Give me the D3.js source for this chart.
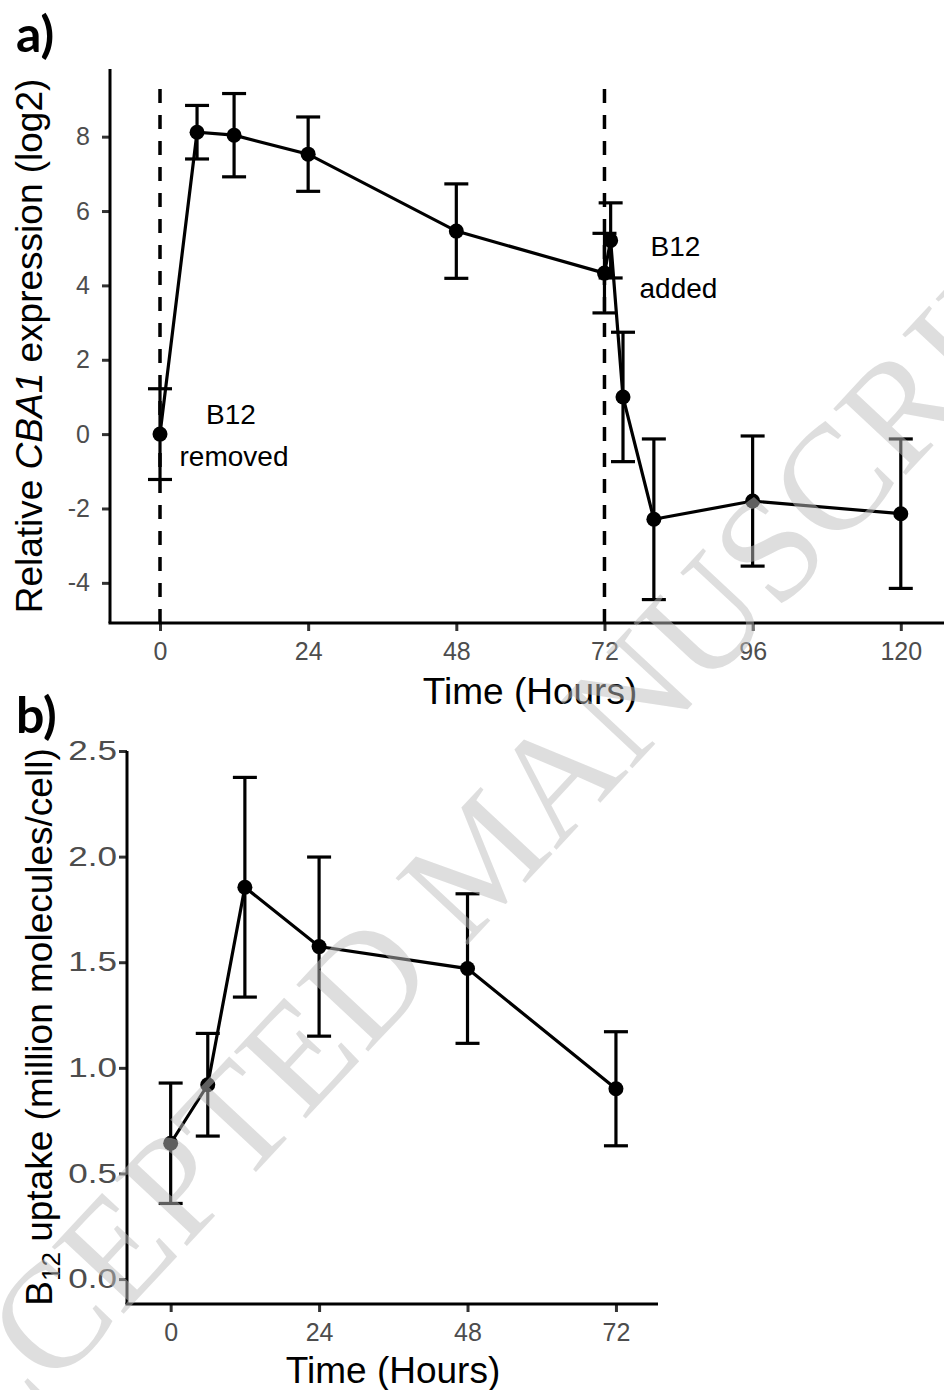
<!DOCTYPE html>
<html lang="en">
<head>
  <meta charset="UTF-8">
  <title>CBA1 expression and B12 uptake</title>
  <script src="https://d3js.org/d3.v7.min.js"></script>
  <style>
    body { margin: 0; background: #fff; }
    svg text { font-family: "Liberation Sans", Arimo, Arial, Helvetica, sans-serif; }
    .tick text { fill: #4d4d4d; }
    .tick line { stroke: #333; stroke-width: 3px; }
    .domain { display: none; }
    .axis-line { stroke: #000; stroke-width: 3px; }
    .series { fill: none; stroke: #000; stroke-width: 3.2px; }
    .err { stroke: #000; stroke-width: 3.2px; fill: none; }
    .vline { stroke: #000; stroke-width: 3.5px; stroke-dasharray: 14,12; }
    .title { font-size: 37px; fill: #000; }
    .note { font-size: 28px; fill: #000; }
    svg text.panel { font-family: Lato, "Open Sans", sans-serif; font-weight: 700; font-size: 50px; }
    svg text.mark { font-family: "Liberation Serif", "Times New Roman", serif; }
  </style>
</head>
<body>
  <svg width="944" height="1390"></svg>
  <script>
    // panel a: relative CBA1 expression (log2)
    const timeA = [0, 6, 12, 24, 48, 72, 73, 75, 80, 96, 120];
    const meanA = [0, 8.12, 8.04, 7.53, 5.46, 4.33, 5.21, 1.0, -2.29, -1.8, -2.14];
    const errA  = [1.22, 0.72, 1.12, 1.0, 1.27, 1.07, 1.01, 1.74, 2.16, 1.75, 2.01];
    const xTicksA = [0, 24, 48, 72, 96, 120];
    const yTicksA = [-4, -2, 0, 2, 4, 6, 8];
    const vlinesA = [0, 72];
    const notesA = [
      { x: 11.5, y: 0.27, lines: ["B12", "removed"] },
      { x: 83.5, y: 4.79, lines: ["B12", "added"] }
    ];

    // panel b: B12 uptake (million molecules/cell)
    const timeB = [0, 6, 12, 24, 48, 72];
    const meanB = [0.643, 0.92, 1.855, 1.574, 1.47, 0.901];
    const errB  = [0.285, 0.243, 0.52, 0.424, 0.354, 0.27];
    const xTicksB = [0, 24, 48, 72];
    const yTicksB = [0, 0.5, 1.0, 1.5, 2.0, 2.5];

    const svg = d3.select("svg");

    function panel(opts) {
      const g = svg.append("g");
      const x = d3.scaleLinear().domain(opts.xDomain).range(opts.xRange);
      const y = d3.scaleLinear().domain(opts.yDomain).range(opts.yRange);
      const rows = opts.time.map((t, i) => ({ t: t, m: opts.mean[i], e: opts.err[i] }));

      // axes
      g.append("g")
        .attr("transform", `translate(0,${opts.yRange[0]})`)
        .call(d3.axisBottom(x).tickValues(opts.xTicks).tickSize(8).tickPadding(11))
        .attr("font-family", null)
        .selectAll("text").style("font-size", "25px");
      const ya = g.append("g")
        .attr("transform", `translate(${opts.xRange[0]},0)`)
        .call(d3.axisLeft(y).tickValues(opts.yTicks).tickSize(8).tickPadding(opts.yPad)
          .tickFormat(opts.yFormat))
        .attr("font-family", null);
      ya.selectAll("text")
        .style("font-size", opts.yFont)
        .attr("x", -(8 + opts.yPad) / opts.yStretch)
        .attr("transform", `scale(${opts.yStretch},1)`);

      g.append("line").attr("class", "axis-line")
        .attr("x1", opts.xRange[0] - 1.5).attr("x2", opts.xRange[1])
        .attr("y1", opts.yRange[0]).attr("y2", opts.yRange[0]);
      g.append("line").attr("class", "axis-line")
        .attr("x1", opts.xRange[0]).attr("x2", opts.xRange[0])
        .attr("y1", opts.yRange[0]).attr("y2", opts.yRange[1]);

      // dashed reference lines
      g.selectAll(".vline")
        .data(opts.vlines || [])
        .enter().append("line")
        .attr("class", "vline")
        .attr("x1", d => x(d)).attr("x2", d => x(d))
        .attr("y1", opts.yRange[0]).attr("y2", opts.yRange[1] + 12);

      // error bars
      const eb = g.append("g").selectAll("g")
        .data(rows).enter().append("g");
      eb.append("line").attr("class", "err")
        .attr("x1", d => x(d.t)).attr("x2", d => x(d.t))
        .attr("y1", d => y(d.m - d.e)).attr("y2", d => y(d.m + d.e));
      [-1, 1].forEach(s => {
        eb.append("line").attr("class", "err")
          .attr("x1", d => x(d.t) - 12).attr("x2", d => x(d.t) + 12)
          .attr("y1", d => y(d.m + s * d.e)).attr("y2", d => y(d.m + s * d.e));
      });

      // line + points
      g.append("path").attr("class", "series")
        .datum(rows)
        .attr("d", d3.line().x(d => x(d.t)).y(d => y(d.m)));
      g.append("g").selectAll("circle")
        .data(rows).enter().append("circle")
        .attr("cx", d => x(d.t)).attr("cy", d => y(d.m))
        .attr("r", 7.5).attr("fill", "#000");

      // annotations
      (opts.notes || []).forEach(n => {
        const t = g.append("text").attr("class", "note")
          .attr("text-anchor", "middle");
        n.lines.forEach((l, i) => {
          t.append("tspan").attr("x", x(n.x) + (i ? 3 : 0))
            .attr("y", y(n.y) + i * 42).text(l);
        });
      });

      // x title
      g.append("text").attr("class", "title")
        .attr("text-anchor", "middle")
        .attr("x", opts.xTitleX).attr("y", opts.xTitleY)
        .text("Time (Hours)");

      return g;
    }

    const ga = panel({
      time: timeA, mean: meanA, err: errA,
      xDomain: [-8.1, 127], xRange: [110, 944],
      yDomain: [-5.08, 9.82], yRange: [623, 69],
      xTicks: xTicksA, yTicks: yTicksA, yFormat: d => String(d),
      yPad: 12, yFont: "25px", yStretch: 1,
      vlines: vlinesA, notes: notesA,
      xTitleX: 530, xTitleY: 704
    });

    const yTitleA = ga.append("text").attr("class", "title")
      .attr("text-anchor", "middle")
      .attr("transform", "translate(42,346) rotate(-90)");
    yTitleA.append("tspan").text("Relative ");
    yTitleA.append("tspan").style("font-style", "italic").text("CBA1");
    yTitleA.append("tspan").text(" expression (log2)");

    const gb = panel({
      time: timeB, mean: meanB, err: errB,
      xDomain: [-7.06, 78.8], xRange: [127, 658],
      yDomain: [-0.118, 2.5], yRange: [1304, 751],
      xTicks: xTicksB, yTicks: yTicksB, yFormat: d3.format(".1f"),
      yPad: 2, yFont: "27px", yStretch: 1.3,
      xTitleX: 393, xTitleY: 1383
    });

    const yTitleB = gb.append("text").attr("class", "title")
      .attr("text-anchor", "middle")
      .attr("transform", "translate(52,1027) rotate(-90)");
    yTitleB.append("tspan").text("B");
    yTitleB.append("tspan").attr("dy", 8).style("font-size", "26px").text("12");
    yTitleB.append("tspan").attr("dy", -8).text(" uptake (million molecules/cell)");

    // panel letters
    svg.append("text").attr("class", "panel").attr("x", 16).attr("y", 52).text("a)");
    svg.append("text").attr("class", "panel").attr("x", 16).attr("y", 733).text("b)");

    // journal watermark
    svg.append("text")
      .attr("class", "mark")
      .attr("text-anchor", "middle")
      .attr("transform", "translate(481,858) rotate(-47)")
      .attr("dy", "0.33em")
      .style("font-size", "150px")
      .style("fill", "rgb(190,190,190)")
      .style("fill-opacity", 0.5)
      .text("ACCEPTED MANUSCRIPT");
  </script>
</body>
</html>
